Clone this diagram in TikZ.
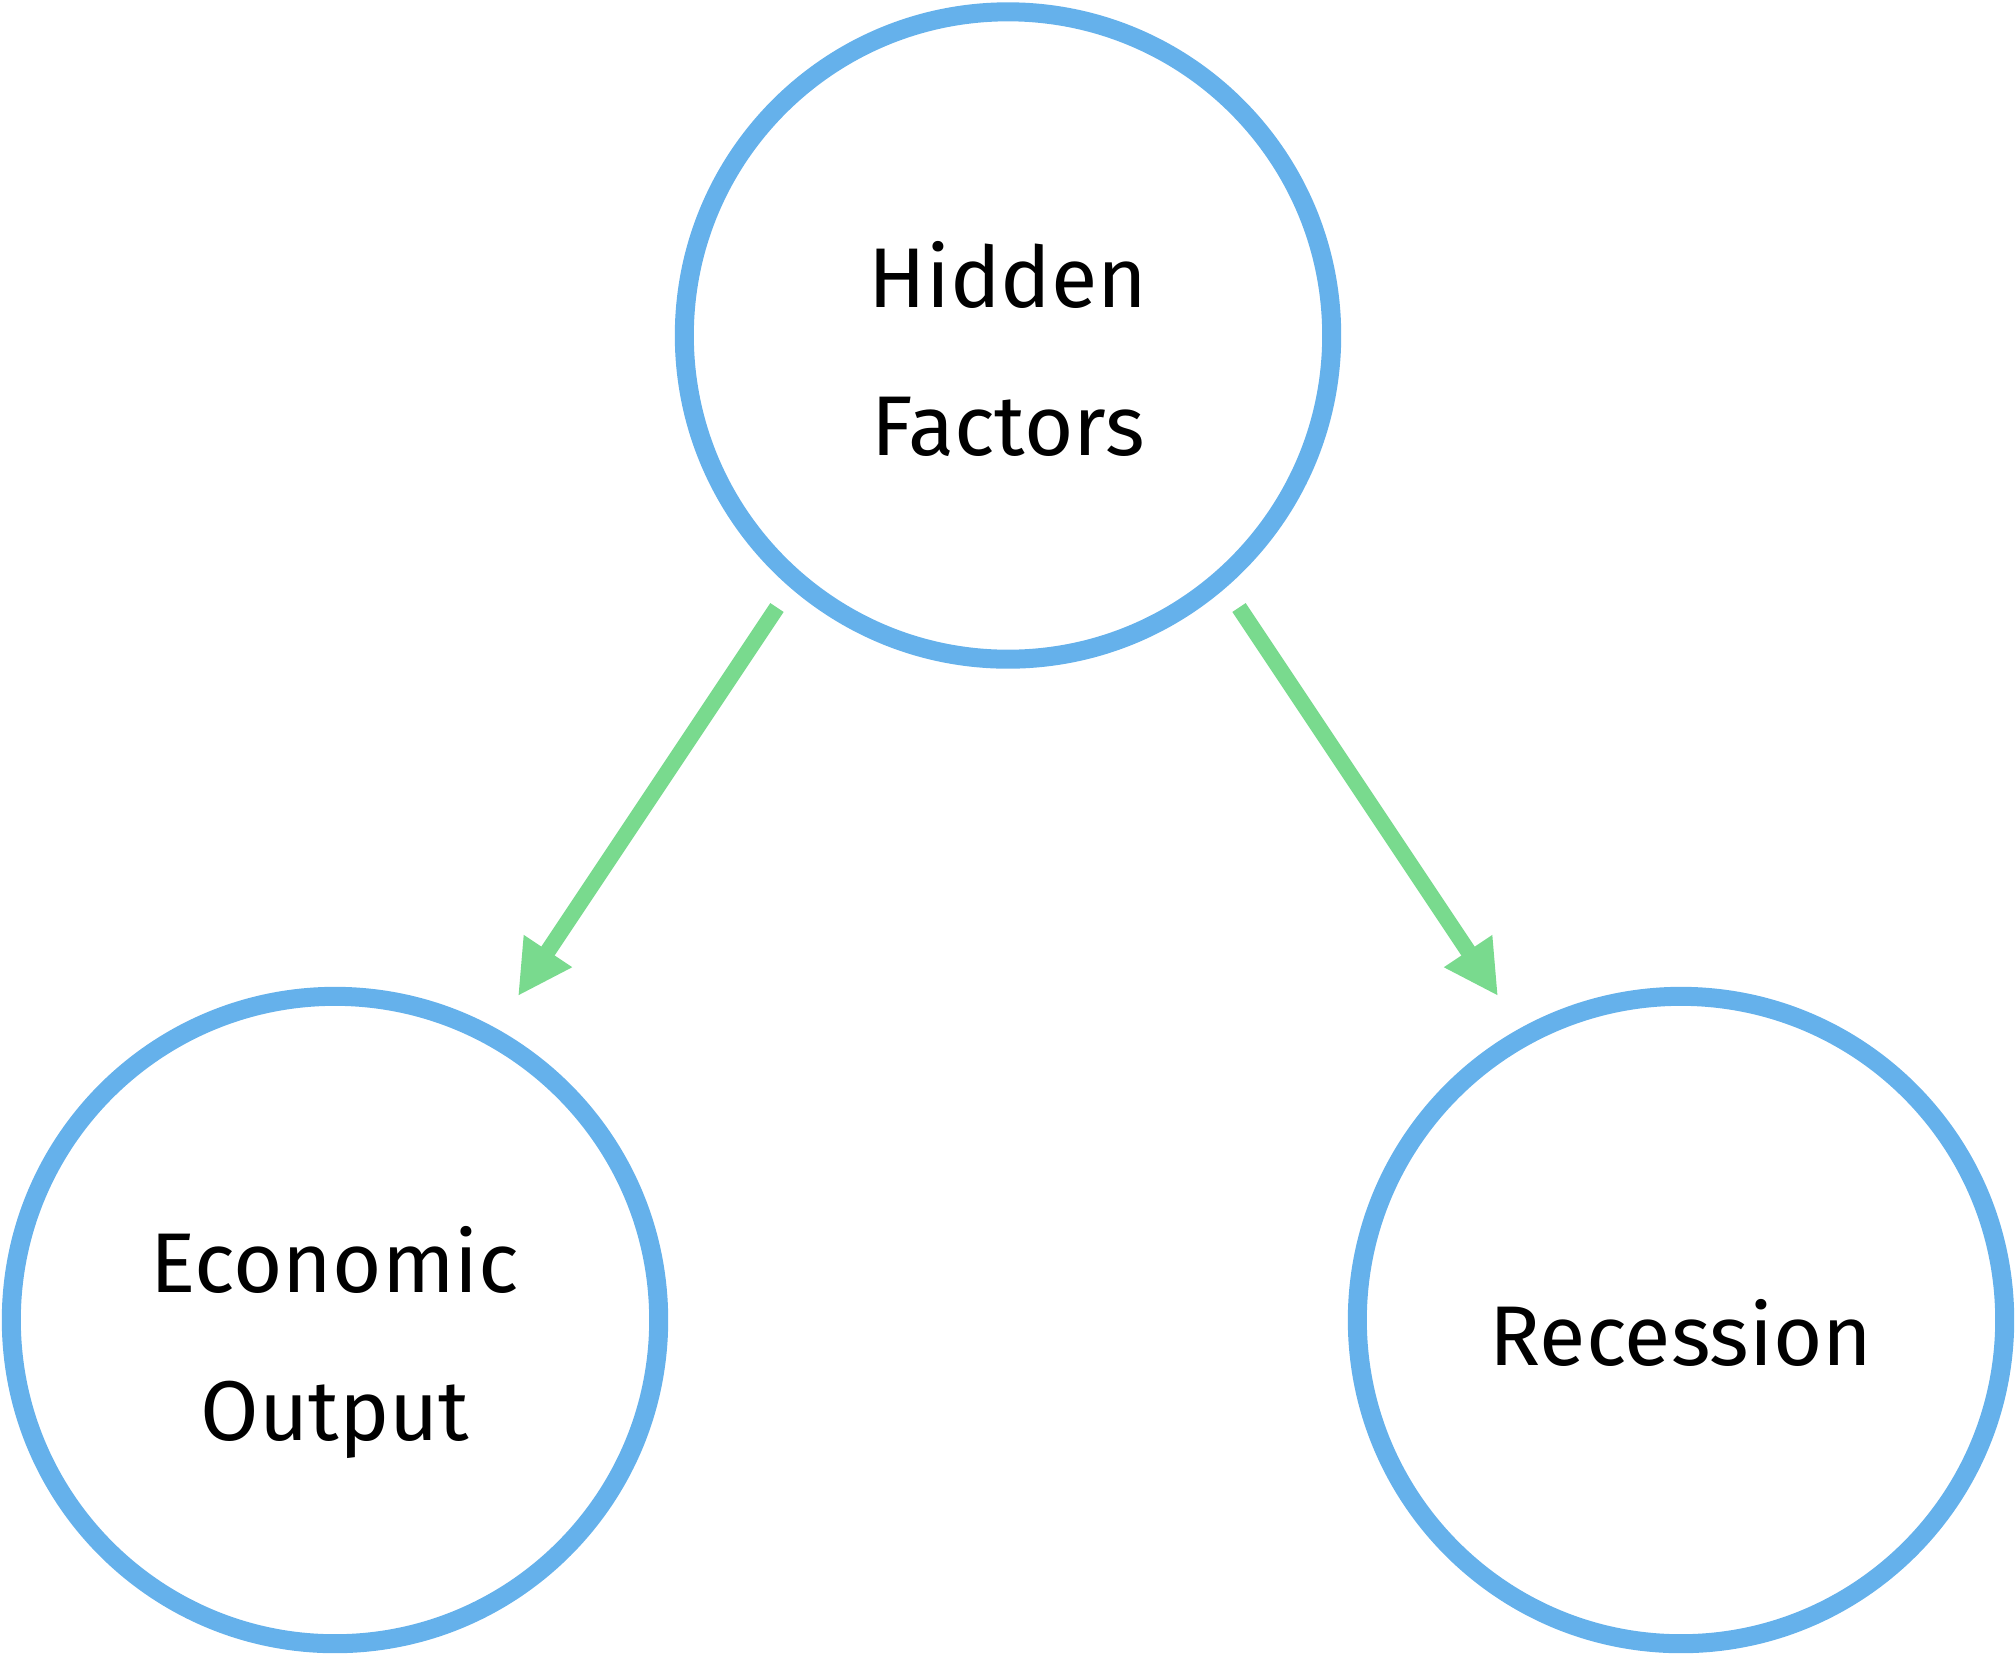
\documentclass[tikz,border=0pt]{standalone}
\usepackage{fontspec}
\setmainfont{Fira Sans}
\usetikzlibrary{arrows.meta,calc}
\definecolor{cblue}{HTML}{65B1EB}
\definecolor{cgreen}{HTML}{79DA8E}
\tikzset{
  circ/.style={circle, draw=cblue, line width=0.19cm, minimum size=6.47cm,
    inner sep=0pt, font=\fontsize{24.1pt}{42.1pt}\selectfont},
  twolines/.style={text height=0pt, text depth=0.56cm},
  oneline/.style={text height=0.9cm, text depth=0pt},
  arr/.style={draw=cgreen, line width=0.16cm,
    -{Triangle[length=0.54cm,width=0.54cm]}}
}
\begin{document}
\begin{tikzpicture}[x=0.01cm,y=-0.01cm]
\useasboundingbox (0,0) rectangle (2016,1654);
\node[circ,twolines] (hid) at (1008,335.5)
  {\begin{tabular}[t]{@{}c@{}}Hidden\\Factors\end{tabular}};
\node[circ,twolines] (eco) at (335,1320)
  {\begin{tabular}[t]{@{}c@{}}Economic\\Output\end{tabular}};
\node[circ,oneline] (rec) at (1681,1320)
  {\begin{tabular}[t]{@{}c@{}}Recession\end{tabular}};
\draw[arr] ($(hid.center)+(-231,272)$) -- ($(eco.center)+(183,-324)$);
\draw[arr] ($(hid.center)+(231,272)$) -- ($(rec.center)+(-183,-324)$);
\end{tikzpicture}
\end{document}
